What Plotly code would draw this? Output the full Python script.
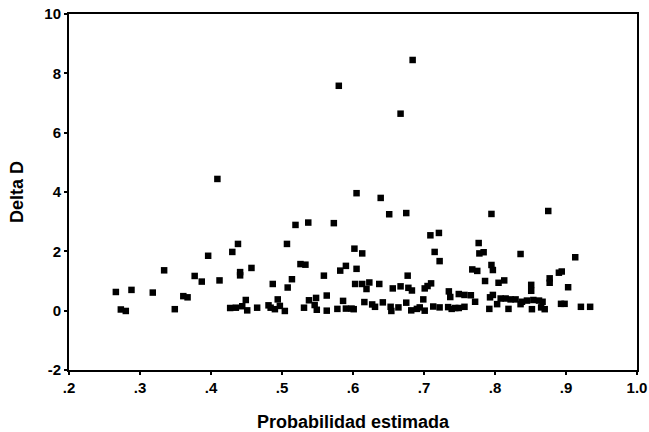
import plotly.graph_objects as go

x_prob = [0.266, 0.273, 0.280, 0.288, 0.318, 0.334, 0.349, 0.361, 0.367, 0.377,
          0.387, 0.396, 0.409, 0.412, 0.427, 0.430, 0.435, 0.438, 0.441, 0.441,
          0.444, 0.449, 0.451, 0.457, 0.465, 0.481, 0.484, 0.487, 0.490, 0.494,
          0.497, 0.504, 0.508, 0.507, 0.514, 0.519, 0.526, 0.533, 0.531, 0.537,
          0.538, 0.546, 0.548, 0.549, 0.559, 0.563, 0.563, 0.573, 0.580, 0.578,
          0.582, 0.586, 0.590, 0.590, 0.598, 0.601, 0.602, 0.603, 0.605, 0.605,
          0.613, 0.613, 0.616, 0.619, 0.623, 0.627, 0.631, 0.637, 0.639, 0.642,
          0.651, 0.653, 0.654, 0.656, 0.664, 0.667, 0.667, 0.675, 0.675, 0.677,
          0.678, 0.683, 0.682, 0.684, 0.690, 0.694, 0.699, 0.701, 0.701, 0.705,
          0.710, 0.709, 0.721, 0.715, 0.722, 0.713, 0.722, 0.734, 0.739, 0.744,
          0.749, 0.757, 0.735, 0.737, 0.749, 0.757, 0.766, 0.772, 0.768, 0.775,
          0.777, 0.778, 0.784, 0.795, 0.795, 0.797, 0.786, 0.805, 0.813, 0.792,
          0.793, 0.797, 0.803, 0.808, 0.815, 0.822, 0.819, 0.829, 0.836, 0.838,
          0.836, 0.851, 0.851, 0.845, 0.854, 0.862, 0.867, 0.852, 0.865, 0.870,
          0.875, 0.877, 0.877, 0.890, 0.894, 0.893, 0.898, 0.903, 0.913, 0.921,
          0.934]
delta_d = [0.63, 0.04, -0.01, 0.70, 0.61, 1.36, 0.05, 0.49, 0.45, 1.17,
           0.98, 1.85, 4.44, 1.02, 0.09, 1.98, 0.10, 2.25, 1.30, 1.19,
           0.15, 0.36, 0.01, 1.44, 0.10, 0.18, 0.10, 0.90, 0.05, 0.38,
           0.16, -0.01, 0.78, 2.25, 1.06, 2.89, 1.57, 1.55, 0.10, 2.97,
           0.35, 0.19, 0.43, 0.03, 1.18, 0.51, 0.00, 2.95, 7.58, 0.06,
           1.35, 0.33, 1.51, 0.07, 0.07, 0.05, 2.09, 0.90, 1.41, 3.96,
           1.93, 0.90, 0.29, 0.73, 0.95, 0.21, 0.13, 0.90, 3.80, 0.28,
           3.25, 0.13, -0.01, 0.75, 0.11, 6.64, 0.82, 0.27, 3.29, 1.18,
           0.77, 0.68, 0.01, 8.45, 0.06, 0.11, 0.38, 0.00, 0.75, 0.83,
           0.92, 2.54, 2.62, 1.98, 1.67, 0.14, 0.11, 0.12, 0.06, 0.09,
           0.09, 0.13, 0.65, 0.46, 0.56, 0.53, 0.52, 0.30, 1.39, 1.34,
           2.28, 1.93, 1.97, 3.26, 1.54, 1.37, 1.00, 0.94, 1.02, 0.06,
           0.45, 0.53, 0.22, 0.41, 0.41, 0.38, 0.06, 0.38, 0.22, 0.30,
           1.91, 0.87, 0.67, 0.34, 0.36, 0.34, 0.30, 0.05, 0.11, 0.05,
           3.36, 1.09, 0.94, 1.28, 1.32, 0.23, 0.23, 0.79, 1.80, 0.13,
           0.13]

x_ticks = [0.2, 0.3, 0.4, 0.5, 0.6, 0.7, 0.8, 0.9, 1.0]
x_tick_labels = [".2", ".3", ".4", ".5", ".6", ".7", ".8", ".9", "1.0"]
y_ticks = [-2, 0, 2, 4, 6, 8, 10]
y_tick_labels = ["-2", "0", "2", "4", "6", "8", "10"]

FAM = "Liberation Sans, Arial, Helvetica, sans-serif"

fig = go.Figure()
fig.add_trace(go.Scatter(
    x=x_prob, y=delta_d, mode="markers",
    marker=dict(symbol="square", size=6.5, color="black", line=dict(width=0)),
    showlegend=False, hoverinfo="x+y"))

fig.update_layout(
    width=649, height=432,
    margin=dict(l=69, r=12, t=14, b=62, autoexpand=False),
    paper_bgcolor="white", plot_bgcolor="white",
    font=dict(family=FAM, color="black"),
)
fig.update_xaxes(
    range=[0.2, 1.0], tickvals=x_ticks, ticktext=x_tick_labels,
    showgrid=False, zeroline=False, showline=True, linecolor="black", linewidth=2,
    mirror=True, ticks="outside", ticklen=3, tickwidth=2, tickcolor="black",
    automargin=False,
    tickfont=dict(size=15, family=FAM, weight=700, color="black"),
    title=dict(text="Probabilidad estimada", font=dict(size=18, family=FAM, weight=700), standoff=22),
)
fig.update_yaxes(
    range=[-2, 10], tickvals=y_ticks, ticktext=y_tick_labels,
    showgrid=False, zeroline=False, showline=True, linecolor="black", linewidth=2,
    mirror=True, ticks="outside", ticklen=3, tickwidth=2, tickcolor="black",
    automargin=False,
    tickfont=dict(size=15, family=FAM, weight=700, color="black"),
    title=dict(text="Delta D", font=dict(size=18, family=FAM, weight=700), standoff=16),
)

fig.write_html("out.html", config={"displayModeBar": False},
               post_script="document.body.style.margin='0px';document.body.style.overflow='hidden';")
